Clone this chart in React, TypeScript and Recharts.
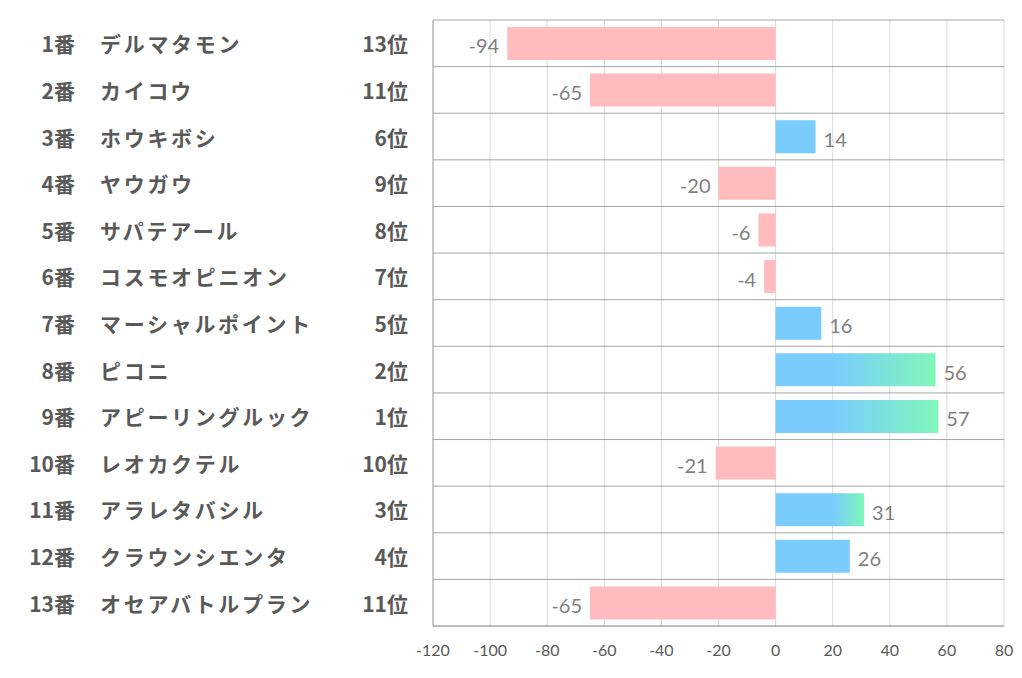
import React from "react";
import {
  Bar,
  BarChart,
  CartesianGrid,
  Cell,
  LabelList,
  XAxis,
  YAxis,
} from "recharts";

const HORSE_NO = ["1番", "2番", "3番", "4番", "5番", "6番", "7番", "8番", "9番", "10番", "11番", "12番", "13番"];
const HORSE_NAMES = [
  "デルマタモン",
  "カイコウ",
  "ホウキボシ",
  "ヤウガウ",
  "サパテアール",
  "コスモオピニオン",
  "マーシャルポイント",
  "ピコニ",
  "アピーリングルック",
  "レオカクテル",
  "アラレタバシル",
  "クラウンシエンタ",
  "オセアバトルプラン",
];
const RANKS = ["13位", "11位", "6位", "9位", "8位", "7位", "5位", "2位", "1位", "10位", "3位", "4位", "11位"];
const SCORES = [-94, -65, 14, -20, -6, -4, 16, 56, 57, -21, 31, 26, -65];
const X_TICKS = [-120, -100, -80, -60, -40, -20, 0, 20, 40, 60, 80];

const PINK = "#FFBBBE";
const BLUE = "#7ACCFF";
const GREEN = "#7FF7B9";
const TEXT = "#595959";
const LABEL = "#7F7F7F";
const JP_FONT = "'Noto Sans CJK JP', 'Noto Sans', sans-serif";
const NUM_FONT = "Lato, 'Open Sans', sans-serif";

const data = HORSE_NO.map((no, i) => ({
  no,
  name: HORSE_NAMES[i],
  rank: RANKS[i],
  score: SCORES[i],
}));

function rankNum(rank: string) {
  return parseInt(rank, 10);
}

function HorseTick(props: any) {
  const { y, payload } = props;
  const row = data[payload.index];
  const common = {
    fontFamily: JP_FONT,
    fontWeight: 700,
    fontSize: 21,
    fill: TEXT,
    dominantBaseline: "central" as const,
  };
  return (
    <g>
      <text x={75} y={y} textAnchor="end" {...common}>
        {row.no}
      </text>
      <text x={100} y={y} textAnchor="start" letterSpacing={2.7} {...common}>
        {row.name}
      </text>
      <text x={408} y={y} textAnchor="end" {...common}>
        {row.rank}
      </text>
    </g>
  );
}

function ValueLabel(props: any) {
  const { x, y, width, height, value } = props;
  const left = Math.min(x, x + width);
  const right = Math.max(x, x + width);
  const neg = value < 0;
  return (
    <text
      x={neg ? left - 8 : right + 8}
      y={y + height / 2 + 2}
      textAnchor={neg ? "end" : "start"}
      dominantBaseline="central"
      fontFamily={NUM_FONT}
      fontSize={20}
      fill={LABEL}
    >
      {value}
    </text>
  );
}

export default function App() {
  return (
    <div style={{ position: "absolute", left: 0, top: 0, background: "#fff" }}>
      <BarChart
        width={1022}
        height={678}
        data={data}
        layout="vertical"
        margin={{ top: 20, right: 18, left: 0, bottom: 0 }}
        barCategoryGap="15%"
      >
        <defs>
          {data.map((d, i) =>
            rankNum(d.rank) <= 3 && d.score > 0 ? (
              <linearGradient key={d.no} id={`grad-${i}`} x1="0" y1="0" x2="1" y2="0">
                <stop offset={20 / d.score} stopColor={BLUE} />
                <stop offset={1} stopColor={GREEN} />
              </linearGradient>
            ) : null
          )}
        </defs>
        <CartesianGrid horizontal={false} stroke="#D9D9D9" />
        <CartesianGrid
          vertical={false}
          stroke="#A6A6A6"
          horizontalCoordinatesGenerator={({ offset }: any) =>
            Array.from({ length: data.length + 1 }, (_, i) => offset.top + (i * offset.height) / data.length)
          }
        />
        <XAxis
          type="number"
          domain={[-120, 80]}
          ticks={X_TICKS}
          interval={0}
          height={52}
          axisLine={{ stroke: "#A6A6A6" }}
          tickLine={false}
          tickMargin={13}
          tick={{ fill: TEXT, fontSize: 16, fontFamily: NUM_FONT }}
        />
        <YAxis
          type="category"
          dataKey="no"
          width={433}
          axisLine={{ stroke: "#A6A6A6" }}
          tickLine={false}
          interval={0}
          tick={<HorseTick />}
        />
        <Bar dataKey="score" isAnimationActive={false}>
          {data.map((d, i) => (
            <Cell
              key={d.no}
              fill={d.score < 0 ? PINK : rankNum(d.rank) <= 3 ? `url(#grad-${i})` : BLUE}
            />
          ))}
          <LabelList dataKey="score" content={<ValueLabel />} />
        </Bar>
      </BarChart>
    </div>
  );
}
